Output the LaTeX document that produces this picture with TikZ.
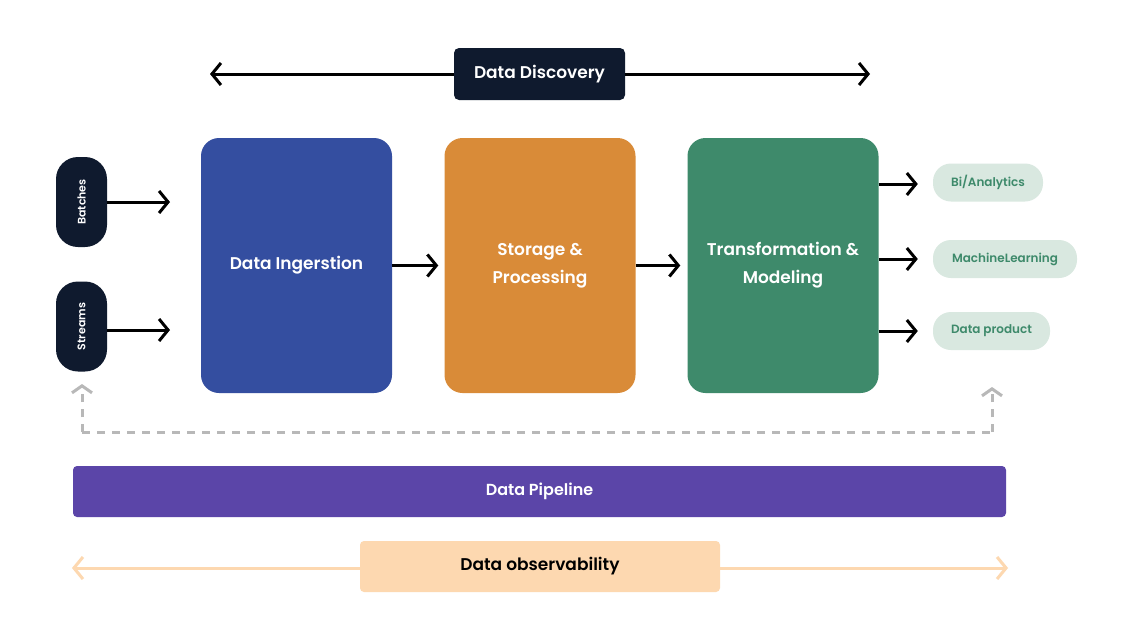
\documentclass[tikz,border=0pt]{standalone}
\usepackage{fontspec}
\setmainfont{Poppins}[BoldFont={Poppins SemiBold}]
\usetikzlibrary{arrows.meta}
\definecolor{navy}{HTML}{0F1A2E}
\definecolor{blu}{HTML}{344EA0}
\definecolor{org}{HTML}{D98B38}
\definecolor{grn}{HTML}{3E8A6B}
\definecolor{pillc}{HTML}{D9E8E0}
\definecolor{purp}{HTML}{5B45A8}
\definecolor{peach}{HTML}{FDD8B0}
\definecolor{dgray}{HTML}{B8B8B8}
\begin{document}
\begin{tikzpicture}[x=1pt,y=-1pt,
 big/.style={rounded corners=18pt,minimum width=191pt,minimum height=255pt,text=white,font=\fontsize{17}{28}\selectfont\bfseries,align=center,inner sep=0},
 src/.style={rounded corners=22pt,fill=navy,minimum width=51pt,minimum height=90pt,inner sep=0},
 pill/.style={rounded corners=18pt,fill=pillc,text=grn,minimum height=38pt,inner sep=0,font=\fontsize{12}{14}\selectfont\bfseries},
 arr/.style={-{Straight Barb[length=9pt,width=22pt,line width=3pt]},line width=3pt,black},
]
\useasboundingbox[fill=white] (0,0) rectangle (1140,640);
% Discovery
\node[fill=navy,rounded corners=5pt,minimum width=171pt,minimum height=52pt,text=white,font=\fontsize{17}{20}\selectfont\bfseries] (dd) at (539.5,74) {Data Discovery};
\coordinate (ddl) at (210,74); \coordinate (ddr) at (870,74);
\draw[arr] (dd.west) -- (ddl);
\draw[arr] (dd.east) -- (ddr);
% sources
\node[src] (ba) at (81.5,202) {};
\node[rotate=90,text=white,font=\fontsize{11}{13}\selectfont\bfseries] at (ba) {Batches};
\node[src] (st) at (81.5,326.5) {};
\node[rotate=90,text=white,font=\fontsize{11}{13}\selectfont\bfseries] at (st) {Streams};
% big boxes
\node[big,fill=blu] (di) at (296.5,265.5) {Data Ingerstion};
\node[big,fill=org] (sp) at (540,265.5) {Storage \&\\Processing};
\node[big,fill=grn] (tm) at (783,265.5) {Transformation \&\\Modeling};
\coordinate (a1) at (170,202); \coordinate (a2) at (170,330);
\draw[arr] (ba.east) -- (a1);
\draw[arr] (st.east |- a2) -- (a2);
\draw[arr] (di.east) -- ([xshift=-6pt]sp.west);
\draw[arr] (sp.east) -- ([xshift=-7pt]tm.west);
% outputs
\node[pill,minimum width=110pt] (p1) at (988,182.5) {Bi/Analytics};
\node[pill,minimum width=144pt] (p2) at (1005,259) {MachineLearning};
\node[pill,minimum width=117pt] (p3) at (991.5,331) {Data product};
\draw[arr] (tm.east |- 0,184) -- ([xshift=-15pt]p1.west |- 0,184);
\draw[arr] (tm.east |- p2) -- ([xshift=-15pt]p2.west);
\draw[arr] (tm.east |- p3) -- ([xshift=-15pt]p3.west);
% dashed feedback
\coordinate (d1) at (82,384); \coordinate (d2) at (82,432); \coordinate (d3) at (992,432); \coordinate (d4) at (992,387);
\draw[dgray,line width=3pt,dash pattern=on 8pt off 7pt] (d2) -- (d3);
\draw[dgray,line width=3pt,dash pattern=on 8pt off 7pt,-{Straight Barb[length=7pt,width=20pt,line width=3pt]}] (d2) -- (d1);
\draw[dgray,line width=3pt,dash pattern=on 8pt off 7pt,-{Straight Barb[length=7pt,width=20pt,line width=3pt]}] (d3) -- (d4);
% pipeline
\node[fill=purp,rounded corners=4pt,minimum width=933pt,minimum height=51pt,text=white,font=\fontsize{16}{20}\selectfont\bfseries] (dp) at (539.5,491.5) {Data Pipeline};
% observability
\node[fill=peach,rounded corners=4pt,minimum width=360pt,minimum height=51pt,text=black,font=\fontsize{17}{20}\selectfont\bfseries] (ob) at (540,566.5) {Data observability};
\coordinate (ol) at (72,568); \coordinate (or) at (1008,568);
\draw[peach,line width=3pt,-{Straight Barb[length=9pt,width=22pt,line width=3pt]}] (ob.west |- ol) -- (ol);
\draw[peach,line width=3pt,-{Straight Barb[length=9pt,width=22pt,line width=3pt]}] (ob.east |- or) -- (or);
\end{tikzpicture}
\end{document}
